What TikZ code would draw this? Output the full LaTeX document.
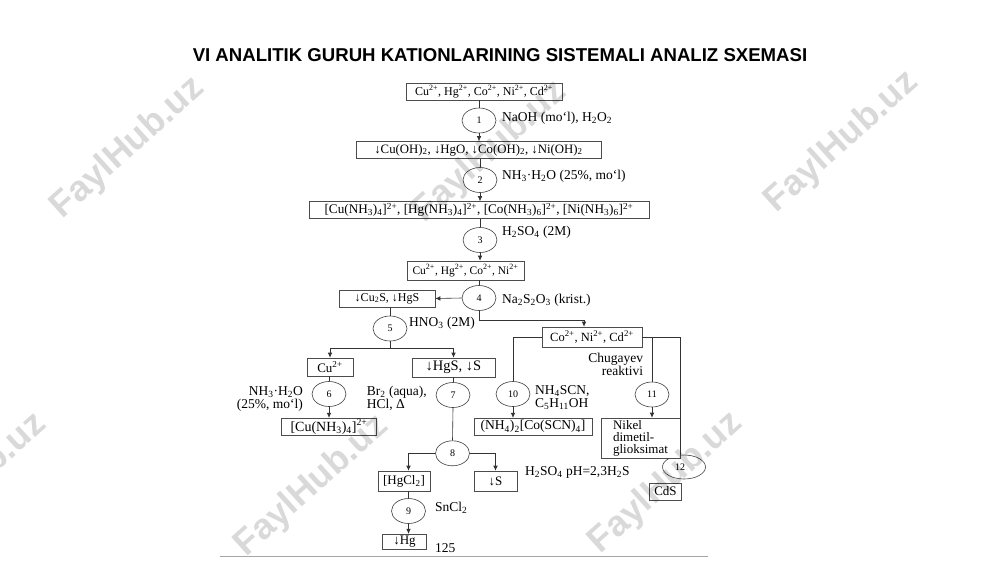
\documentclass[tikz,border=0pt]{standalone}
\usepackage{fontspec}
\setmainfont{Liberation Serif}
\newfontfamily\titlefont{Liberation Sans}
\usetikzlibrary{shapes.geometric,arrows.meta}
\newcommand{\zsup}[1]{\textsuperscript{#1}}
\newcommand{\zsub}[1]{\textsubscript{#1}}
\newcommand{\fs}[1]{\fontsize{#1}{#1}\selectfont}
\begin{document}
\begin{tikzpicture}[x=1pt,y=-1pt,
  box/.style={draw=black!70, line width=0.6pt, fill=white, inner sep=0pt, font=\fs{12.5}},
  num/.style={draw=black!75, line width=0.6pt, ellipse, fill=white, inner sep=0pt, minimum width=34pt, minimum height=25pt, font=\fs{10}},
  lbl/.style={inner sep=0pt, font=\fontsize{13.5}{13}\selectfont},
  conn/.style={draw=black!80, line width=0.6pt},
  arr/.style={conn, -{Latex[length=5pt,width=4.5pt]}},
  wm/.style={rotate=42, text=black, text opacity=0.15, font=\titlefont\bfseries\fontsize{36}{36}\selectfont}
]
\useasboundingbox (0,0) rectangle (1000,562);
\fill[white] (0,0) rectangle (1000,562);

% title
\node[font=\titlefont\bfseries\fontsize{18.6}{20}\selectfont] (title) at (500,55) {VI ANALITIK GURUH KATIONLARINING SISTEMALI ANALIZ SXEMASI};

% main column
\node[box, font=\fs{12}, minimum width=156pt, minimum height=17pt] (A) at (484,91.5) {Cu\zsup{2+}, Hg\zsup{2+}, Co\zsup{2+}, Ni\zsup{2+}, Cd\zsup{2+}};
\node[num] (c1) at (479,120.5) {1};
\node[box, font=\fs{12.8}, minimum width=245pt, minimum height=17pt] (B) at (478.5,150) {↓Cu(OH)\zsub{2}, ↓HgO, ↓Co(OH)\zsub{2}, ↓Ni(OH)\zsub{2}};
\node[num] (c2) at (480,180) {2};
\node[box, font=\fs{13.2}, minimum width=340pt, minimum height=17pt] (C) at (479,210) {[Cu(NH\zsub{3})\zsub{4}]\zsup{2+}, [Hg(NH\zsub{3})\zsub{4}]\zsup{2+}, [Co(NH\zsub{3})\zsub{6}]\zsup{2+}, [Ni(NH\zsub{3})\zsub{6}]\zsup{2+}};
\node[num] (c3) at (480,240) {3};
\node[box, font=\fs{11.5}, minimum width=117pt, minimum height=19pt] (D) at (465.5,270.5) {Cu\zsup{2+}, Hg\zsup{2+}, Co\zsup{2+}, Ni\zsup{2+}};
\node[num] (c4) at (479,298) {4};
\node[box, font=\fs{12}, minimum width=96pt, minimum height=17pt] (E) at (387,298.5) {↓Cu\zsub{2}S, ↓HgS};
\node[box, font=\fs{12.5}, minimum width=100pt, minimum height=20pt] (F) at (592,337) {Co\zsup{2+}, Ni\zsup{2+}, Cd\zsup{2+}};
\node[num] (c5) at (390,328.5) {5};
\node[box, font=\fs{13}, minimum width=46pt, minimum height=18pt] (G) at (330,367) {Cu\zsup{2+}};
\node[box, font=\fs{14.5}, minimum width=83pt, minimum height=19pt] (H) at (453.5,367.5) {↓HgS, ↓S};
\node[num] (c6) at (329,394) {6};
\node[num] (c7) at (453,395) {7};
\node[box, font=\fs{14}, minimum width=95pt, minimum height=17pt] (I) at (329,426.7) {[Cu(NH\zsub{3})\zsub{4}]\zsup{2+}};
\node[num] (c8) at (452.5,453.3) {8};
\node[box, font=\fs{13}, minimum width=52pt, minimum height=20pt] (J) at (404,481) {[HgCl\zsub{2}]};
\node[box, font=\fs{13}, minimum width=43pt, minimum height=20pt] (K) at (495.5,481) {↓S};
\node[num] (c9) at (408.5,511) {9};
\node[box, font=\fs{13}, minimum width=44pt, minimum height=15pt] (L) at (404.5,541.7) {↓Hg};
\node[num] (c10) at (513,394) {10};
\node[box, font=\fs{13.6}, minimum width=118pt, minimum height=17pt] (M) at (533,426.7) {(NH\zsub{4})\zsub{2}[Co(SCN)\zsub{4}]};
\node[num] (c11) at (652,394.5) {11};
\node[draw=black!75, line width=0.6pt, ellipse, inner sep=0pt, minimum width=43pt, minimum height=24pt, font=\fs{10}] (c12) at (684,467) {\hspace*{-8pt}12};
\node[box, font=\fontsize{13}{12}\selectfont, minimum width=79pt, minimum height=40pt, align=left] (N) at (640.5,438) {Nikel\\dimetil-\\glioksimat};
\node[box, font=\fs{13}, minimum width=32pt, minimum height=17pt] (O) at (665.5,491.3) {CdS};

% labels
\node[lbl, anchor=west] (l1) at (502,118) {NaOH (mo‘l), H\zsub{2}O\zsub{2}};
\node[lbl, anchor=west] (l2) at (502,176) {NH\zsub{3}·H\zsub{2}O (25\%, mo‘l)};
\node[lbl, anchor=west] (l3) at (502,232) {H\zsub{2}SO\zsub{4} (2M)};
\node[lbl, anchor=west] (l4) at (502,300) {Na\zsub{2}S\zsub{2}O\zsub{3} (krist.)};
\node[lbl, anchor=west] (l5) at (409,323) {HNO\zsub{3} (2M)};
\node[lbl, anchor=east, align=right] (l6) at (303,398.5) {NH\zsub{3}·H\zsub{2}O\\(25\%, mo‘l)};
\node[lbl, anchor=west, align=left] (l7) at (366.7,398) {Br\zsub{2} (aqua),\\HCl, Δ};
\node[lbl, anchor=west, align=left] (l10) at (535,397.5) {NH\zsub{4}SCN,\\C\zsub{5}H\zsub{11}OH};
\node[lbl, anchor=east, align=right] (l11) at (643.3,364) {Chugayev\\reaktivi};
\node[lbl, anchor=west] (l8) at (525,472) {H\zsub{2}SO\zsub{4} pH=2,3H\zsub{2}S};
\node[lbl, anchor=west] (l9) at (435,508) {SnCl\zsub{2}};
\node[lbl, anchor=west] (pg) at (435,548) {125};

% connectors
\draw[conn] (c1.north |- A.south) -- (c1.north);
\draw[arr] (c1.south) -- (c1.south |- B.north);
\draw[conn] (c2.north |- B.south) -- (c2.north);
\draw[arr] (c2.south) -- (c2.south |- C.north);
\draw[conn] (c3.north |- C.south) -- (c3.north);
\draw[arr] (c3.south) -- (c3.south |- D.north);
\draw[conn] (c4.north |- D.south) -- (c4.north);
\draw[arr] (c4.west) -- (E.east);
\draw[arr] (c4.south) -- ++(0,9) -| ([xshift=-8pt]F.north);
\draw[conn] (c5.north |- E.south) -- (c5.north);
\draw[conn] (c5.south) -- ++(0,6.5) coordinate (b5);
\draw[arr] (b5) -| (G.north);
\draw[arr] (b5) -| (H.north);
\draw[conn] (c6.north |- G.south) -- (c6.north);
\draw[arr] (c6.south) -- (c6.south |- I.north);
\draw[conn] (c7.north |- H.south) -- (c7.north);
\draw[conn] (c7.south) -- (c8.north);
\draw[arr] (c8.west) -| (c9.north |- J.north);
\draw[arr] (c8.east) -| (K.north);
\draw[conn] (c9.north |- J.south) -- (c9.north);
\draw[arr] (c9.south) -- (c9.south |- L.north);
\draw[conn] (F.west) -| (c10.north);
\draw[arr] (c10.south) -- (c10.south |- M.north);
\coordinate (r1) at (680,337);
\draw[conn] (F.east) -- (r1) -- (r1 |- c12.north);
\draw[conn] (c11.north |- F.east) -- (c11.north);
\draw[arr] (c11.south) -- (c11.south |- N.north);

% bottom rule
\coordinate (bl) at (220,556);
\coordinate (br) at (708,556);
\draw[black!35, line width=0.8pt] (bl) -- (br);

% watermarks
\node[wm] (w1) at (128,148) {FaylHub.uz};
\node[wm] (w2) at (490,152) {FaylHub.uz};
\node[wm] (w3) at (842,142) {FaylHub.uz};
\node[wm] (w4) at (-30,484) {FaylHub.uz};
\node[wm] (w5) at (312,486) {FaylHub.uz};
\node[wm] (w6) at (666,483) {FaylHub.uz};
\end{tikzpicture}
\end{document}
